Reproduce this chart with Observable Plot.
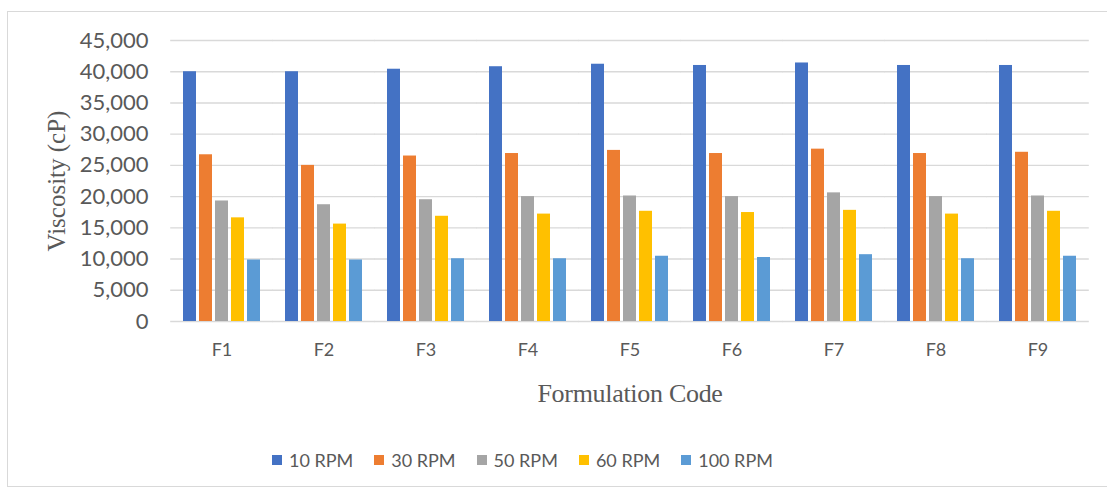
<!DOCTYPE html>
<html>
<head>
<meta charset="utf-8">
<script src="https://cdn.jsdelivr.net/npm/d3@7"></script>
<script src="https://cdn.jsdelivr.net/npm/@observablehq/plot@0.6"></script>
<style>
  html, body { margin: 0; padding: 0; background: #fff; }
  #wrap { position: relative; width: 1107px; height: 490px; overflow: hidden; }
  #frame { position: absolute; left: 7px; top: 11px; width: 1200px; height: 476px; border: 1px solid #d9d9d9; box-sizing: border-box; }
  #chart { position: absolute; left: 0; top: 0; }
  #chart g[aria-label="y-axis label"], #chart g[aria-label="fx-axis label"] { font-family: "Liberation Serif", serif; font-size: 25px; }
  #chart g[aria-label="fx-axis label"] { font-size: 26px; letter-spacing: -0.3px; }
  #legend { position: absolute; left: 272px; top: 449px; display: flex; font-family: Lato, sans-serif; font-size: 18px; color: #595959; }
  #legend .item { display: flex; align-items: center; margin-right: 21px; }
  #legend .sw { width: 10px; height: 10px; margin-right: 7px; }
</style>
</head>
<body>
<div id="wrap">
  <div id="frame"></div>
  <div id="chart"></div>
  <div id="legend"></div>
</div>
<script>
const codes = ["F1", "F2", "F3", "F4", "F5", "F6", "F7", "F8", "F9"];
const series = ["10 RPM", "30 RPM", "50 RPM", "60 RPM", "100 RPM"];
const rpm10  = [40000, 40000, 40400, 40800, 41200, 41000, 41400, 41000, 41000];
const rpm30  = [26700, 25000, 26500, 26900, 27400, 26900, 27600, 26900, 27100];
const rpm50  = [19300, 18700, 19500, 20000, 20100, 20000, 20600, 20000, 20100];
const rpm60  = [16600, 15600, 16850, 17200, 17650, 17450, 17800, 17200, 17650];
const rpm100 = [9850, 9850, 10050, 10050, 10450, 10250, 10700, 10050, 10450];
const colors = ["#4472C4", "#ED7D31", "#A5A5A5", "#FFC000", "#5B9BD5"];
const yTicks = [0, 5000, 10000, 15000, 20000, 25000, 30000, 35000, 40000, 45000];

const seriesValues = [rpm10, rpm30, rpm50, rpm60, rpm100];
const data = [];
codes.forEach((code, i) => {
  series.forEach((rpm, j) => data.push({code, rpm, value: seriesValues[j][i]}));
});

const fmt = d3.format(",");

const chart = Plot.plot({
  width: 1107,
  height: 490,
  marginLeft: 168,
  marginRight: 17,
  marginTop: 40,
  marginBottom: 169,
  style: {fontFamily: "Lato, sans-serif", color: "#595959", background: "transparent", overflow: "visible"},
  fx: {domain: codes, paddingInner: 0.25, paddingOuter: 0.125, label: null},
  x: {domain: series, paddingInner: 0.2, paddingOuter: 0, axis: null},
  y: {domain: [0, 45000], axis: null},
  color: {domain: series, range: colors},
  marks: [
    Plot.ruleY(yTicks, {stroke: "#d9d9d9", strokeWidth: 1.4, insetLeft: -12.8, insetRight: -12.8}),
    Plot.axisY({ticks: yTicks, tickFormat: fmt, tickSize: 0, tickPadding: 35, fontSize: 22,
      label: "Viscosity (cP)", labelAnchor: "center", labelOffset: 136, labelArrow: "none"}),
    Plot.axisFx({anchor: "bottom", tickSize: 0, tickPadding: 22, fontSize: 18,
      label: "Formulation Code", labelAnchor: "center", labelOffset: 80, labelArrow: "none"}),
    Plot.barY(data, {fx: "code", x: "rpm", y: "value", fill: "rpm"})
  ]
});
document.getElementById("chart").appendChild(chart);

const legend = document.getElementById("legend");
series.forEach((s, i) => {
  const item = document.createElement("div");
  item.className = "item";
  const sw = document.createElement("div");
  sw.className = "sw";
  sw.style.background = colors[i];
  const label = document.createElement("span");
  label.textContent = s;
  item.appendChild(sw);
  item.appendChild(label);
  legend.appendChild(item);
});
</script>
</body>
</html>
